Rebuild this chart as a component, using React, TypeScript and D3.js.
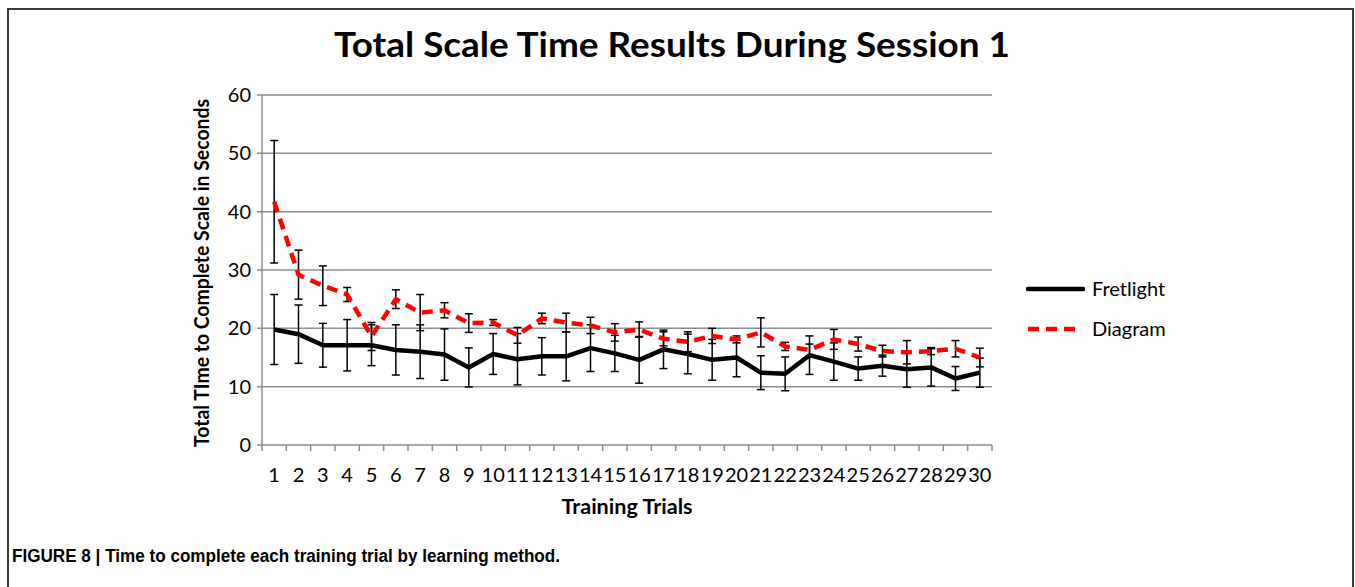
import React from "react";
import * as d3 from "d3";

const trials = d3.range(1, 31).map(String);
const fretlight = [19.8, 19.0, 17.1, 17.1, 17.1, 16.3, 16.0, 15.5, 13.3, 15.6, 14.7, 15.2, 15.2, 16.6, 15.7, 14.6, 16.4, 15.6, 14.6, 15.0, 12.4, 12.2, 15.4, 14.3, 13.1, 13.6, 13.0, 13.3, 11.4, 12.4];
const fretlightErr = [6.0, 5.0, 3.75, 4.4, 3.5, 4.3, 4.6, 4.4, 3.35, 3.5, 4.4, 3.2, 4.2, 4.0, 3.1, 4.0, 3.3, 3.4, 3.5, 3.3, 2.9, 2.9, 3.3, 3.2, 2.0, 1.8, 3.1, 3.2, 2.05, 2.5];
const diagram = [41.7, 29.2, 27.3, 25.8, 18.6, 25.0, 22.7, 23.1, 20.9, 21.0, 18.8, 21.7, 21.0, 20.5, 19.3, 19.8, 18.2, 17.7, 18.7, 18.1, 19.3, 16.9, 16.3, 18.1, 17.3, 16.1, 15.9, 16.1, 16.5, 15.0];
const diagramErr = [10.5, 4.2, 3.4, 1.2, 2.4, 1.6, 3.1, 1.3, 1.6, 0.5, 1.35, 0.9, 1.6, 1.4, 1.5, 1.3, 1.2, 1.7, 1.3, 0.6, 2.5, 0.7, 1.0, 1.7, 1.2, 1.0, 2.0, 0.6, 1.4, 1.6];
const yTicks = [0, 10, 20, 30, 40, 50, 60];
const seriesNames = ["Fretlight", "Diagram"];

const W = 1355;
const H = 587;
const plot = { left: 262, right: 992, top: 95, bottom: 445 };
const FONT = "Lato, 'Open Sans', sans-serif";

export default function App() {
  const x = d3.scaleBand<string>().domain(trials).range([plot.left, plot.right]).padding(0);
  const y = d3.scaleLinear().domain([0, 60]).range([plot.bottom, plot.top]);
  const cx = (i: number) => (x(trials[i]) as number) + x.bandwidth() / 2;
  const line = d3
    .line<number>()
    .x((_, i) => cx(i))
    .y((d) => y(d));

  const gridColor = "#8e8e8e";
  const capW = 4;

  const errorBars = (vals: number[], errs: number[], key: string) =>
    vals.map((v, i) => {
      const x0 = cx(i);
      const hi = y(v + errs[i]);
      const lo = y(v - errs[i]);
      return (
        <g key={key + i} stroke="#000" strokeWidth={1.5}>
          <line x1={x0} x2={x0} y1={hi} y2={lo} />
          <line x1={x0 - capW} x2={x0 + capW} y1={hi} y2={hi} />
          <line x1={x0 - capW} x2={x0 + capW} y1={lo} y2={lo} />
        </g>
      );
    });

  const boundaries = d3.range(0, trials.length + 1).map((i) => plot.left + i * x.bandwidth());

  return (
    <svg
      width={W}
      height={H}
      style={{ position: "absolute", left: 0, top: 0, background: "#fff" }}
    >
      <rect x={0} y={0} width={W} height={H} fill="#fff" />
      <path d={`M8,${H} V9 H1353 V${H}`} fill="none" stroke="#3a3a3a" strokeWidth={2} />

      <text
        x={672}
        y={57}
        textAnchor="middle"
        fontFamily={FONT}
        fontWeight="bold"
        fontSize={35}
        textLength={676}
        lengthAdjust="spacingAndGlyphs"
      >
        Total Scale Time Results During Session 1
      </text>

      {/* gridlines */}
      {yTicks.map((t) => (
        <line key={"g" + t} x1={plot.left - 5} x2={plot.right} y1={y(t)} y2={y(t)} stroke={gridColor} strokeWidth={1.5} />
      ))}
      {/* y axis */}
      <line x1={plot.left} x2={plot.left} y1={plot.top} y2={plot.bottom} stroke={gridColor} strokeWidth={1.5} />
      {/* x tick marks */}
      {boundaries.map((b, i) => (
        <line key={"xt" + i} x1={b} x2={b} y1={plot.bottom} y2={plot.bottom + 6} stroke={gridColor} strokeWidth={1.5} />
      ))}
      {yTicks.map((t) => (
        <text key={"yl" + t} x={251} y={y(t) + 7} textAnchor="end" fontFamily={FONT} fontSize={20}>
          {t}
        </text>
      ))}
      {trials.map((t, i) => (
        <text key={"xl" + t} x={cx(i)} y={482} textAnchor="middle" fontFamily={FONT} fontSize={20}>
          {t}
        </text>
      ))}

      <text
        transform={`translate(209,${(plot.top + plot.bottom) / 2 + 3}) rotate(-90)`}
        textAnchor="middle"
        fontFamily={FONT}
        fontWeight="bold"
        fontSize={20}
        textLength={348}
        lengthAdjust="spacingAndGlyphs"
      >
        Total TIme to Complete Scale in Seconds
      </text>
      <text
        x={627}
        y={514}
        textAnchor="middle"
        fontFamily={FONT}
        fontWeight="bold"
        fontSize={20}
        textLength={131}
        lengthAdjust="spacingAndGlyphs"
      >
        Training Trials
      </text>

      {/* error bars */}
      {errorBars(fretlight, fretlightErr, "ef")}
      {errorBars(diagram, diagramErr, "ed")}

      {/* lines */}
      <path d={line(fretlight) as string} fill="none" stroke="#000" strokeWidth={4.5} strokeLinejoin="round" />
      <path
        d={line(diagram) as string}
        fill="none"
        stroke="#ff0000"
        strokeWidth={4.5}
        strokeDasharray="11,7"
        strokeLinejoin="round"
      />

      {/* legend */}
      <line x1={1028} x2={1083} y1={289} y2={289} stroke="#000" strokeWidth={4.5} strokeLinecap="round" />
      <text x={1092} y={296} fontFamily={FONT} fontSize={20}>
        {seriesNames[0]}
      </text>
      <line x1={1028} x2={1078} y1={329} y2={329} stroke="#ff0000" strokeWidth={4.5} strokeDasharray="11,7" />
      <text x={1092} y={336} fontFamily={FONT} fontSize={20}>
        {seriesNames[1]}
      </text>

      <text
        x={12}
        y={562}
        fontFamily="'Liberation Sans', Arial, sans-serif"
        fontWeight="bold"
        fontSize={18}
        textLength={548}
        lengthAdjust="spacingAndGlyphs"
      >
        FIGURE 8 | Time to complete each training trial by learning method.
      </text>
    </svg>
  );
}
